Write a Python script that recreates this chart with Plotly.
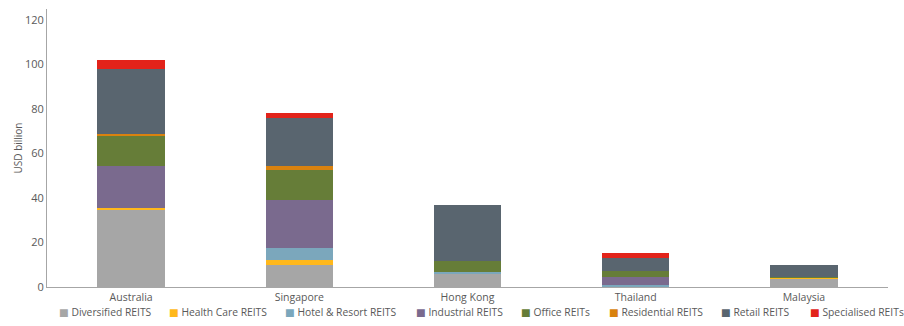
import plotly.graph_objects as go

countries = ["Australia", "Singapore", "Hong Kong", "Thailand", "Malaysia"]

diversified = [34.7, 10.1, 6.0, 0.2, 3.6]
health_care = [0.6, 2.1, 0.0, 0.0, 0.5]
hotel_resort = [0.0, 5.4, 0.6, 0.7, 0.0]
industrial = [19.0, 21.5, 0.0, 3.4, 0.0]
office = [13.7, 13.4, 5.1, 3.0, 0.5]
residential = [1.0, 2.1, 0.0, 0.0, 0.0]
retail = [29.0, 21.3, 25.3, 5.7, 5.3]
specialised = [3.9, 2.4, 0.0, 2.2, 0.0]

series_names = ["Diversified REITS", "Health Care REITS", "Hotel & Resort REITS",
                "Industrial REITS", "Office REITs", "Residential REITS",
                "Retail REITS", "Specialised REITs"]
series_values = [diversified, health_care, hotel_resort, industrial, office,
                 residential, retail, specialised]
colors = ["#a6a6a6", "#ffb81c", "#7ba7bc", "#7a6a8e", "#667d38", "#d9820f",
          "#59656f", "#e2231a"]

FONT = "Open Sans, Noto Sans, DejaVu Sans, sans-serif"
TXT = "#595959"

W, H = 904, 326
ML, MR, MT, MB = 47, 16, 9, 39

fig = go.Figure()
for name, vals, col in zip(series_names, series_values, colors):
    fig.add_trace(go.Bar(x=countries, y=vals, name=name, marker_color=col,
                         marker_line_width=0, showlegend=False))

# manual legend (square glyph + label), placed like the reference
legend_px = [57, 167, 283, 414, 519, 607, 719, 808]
pw = W - ML - MR
ph = H - MT - MB
for name, col, px in zip(series_names, colors, legend_px):
    fig.add_annotation(
        x=(px - ML) / pw, y=(H - MB - 312) / ph, xref="paper", yref="paper",
        xanchor="left", yanchor="middle", showarrow=False,
        text=f'<span style="color:{col}">■</span> {name}',
        font=dict(family=FONT, size=10.3, color=TXT))

fig.update_layout(
    width=W, height=H,
    margin=dict(l=ML, r=MR, t=MT, b=MB, autoexpand=False),
    barmode="stack", bargap=0.6,
    plot_bgcolor="white", paper_bgcolor="white",
    font=dict(family=FONT, size=11, color=TXT),
    xaxis=dict(showline=True, linecolor="#a6a6a6", linewidth=1, ticks="",
               showgrid=False, tickfont=dict(size=10.5, color=TXT)),
    yaxis=dict(range=[0, 125], tickvals=[0, 20, 40, 60, 80, 100, 120],
               showline=True, linecolor="#a6a6a6", linewidth=1, ticks="",
               showgrid=False, zeroline=False,
               title=dict(text="USD billion", font=dict(size=10, color=TXT), standoff=0),
               tickfont=dict(size=11, color=TXT)),
)

fig.write_html("out.html")
